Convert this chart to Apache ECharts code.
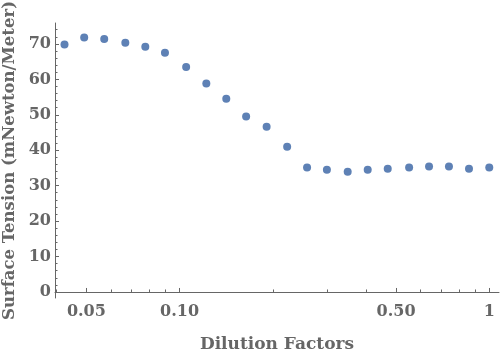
<!DOCTYPE html>
<html>
<head>
<meta charset="utf-8">
<script src="https://cdn.jsdelivr.net/npm/echarts@6/dist/echarts.min.js"></script>
<style>html,body{margin:0;padding:0;background:#fff;}#c{width:500px;height:356px;}</style>
</head>
<body>
<div id="c"></div>
<script>
const dilution = [0.0425,0.0492,0.0571,0.0668,0.0775,0.0897,0.105,0.122,0.1415,0.164,0.191,0.2225,0.258,0.299,0.349,0.405,0.470,0.551,0.639,0.741,0.860,1.0];
const tension = [69.8,71.8,71.4,70.3,69.2,67.5,63.5,58.8,54.5,49.5,46.6,41.0,35.1,34.5,33.9,34.5,34.8,35.1,35.4,35.4,34.8,35.1];
const xMajorTicks = [0.05,0.1,0.5,1];
const xMajorLabels = ['0.05','0.10','0.50','1'];
const xMinorTicks = [0.04,0.06,0.07,0.08,0.09,0.2,0.3,0.4,0.6,0.7,0.8,0.9];
const yMajorTicks = [0,10,20,30,40,50,60,70];
const yMinorTicks = [2,4,6,8,12,14,16,18,22,24,26,28,32,34,36,38,42,44,46,48,52,54,56,58,62,64,66,68,72,74];

const gray = '#666';
const font = {fontFamily:'DejaVu Serif', fontWeight:'bold', color:gray, fontSize:16};
const xMin = 0.0396, xMax = 1.075, yMin = -1.7, yMax = 75.9;

const chart = echarts.init(document.getElementById('c'));
chart.setOption({
  animation:false,
  grid:{left:55, right:1, top:23, bottom:58, outerBoundsMode:'none', containLabel:false},
  xAxis:[{
    type:'log', logBase:10, min:xMin, max:xMax,
    name:'Dilution Factors', nameLocation:'middle', nameGap:38,
    nameTextStyle:Object.assign({}, font, {fontSize:17}),
    axisLine:{lineStyle:{color:gray, width:1}},
    axisTick:{inside:true, length:4, customValues:xMajorTicks, lineStyle:{color:gray}},
    axisLabel:Object.assign({}, font, {margin:6, customValues:xMajorTicks,
      formatter:function(v){ for(let i=0;i<xMajorTicks.length;i++){ if(Math.abs(v-xMajorTicks[i])<1e-6) return xMajorLabels[i]; } return ''; }}),
    splitLine:{show:false}
  },{
    type:'log', logBase:10, min:xMin, max:xMax, position:'bottom',
    axisLine:{show:false},
    axisTick:{inside:true, length:2.5, customValues:xMinorTicks, lineStyle:{color:gray}},
    axisLabel:{show:false}, splitLine:{show:false}
  }],
  yAxis:[{
    type:'value', min:yMin, max:yMax,
    name:'Surface Tension (mNewton/Meter)', nameLocation:'middle', nameGap:36,
    nameTextStyle:Object.assign({}, font, {fontSize:16.5}),
    axisLine:{show:true, lineStyle:{color:gray, width:1}},
    axisTick:{show:true, inside:true, length:4, customValues:yMajorTicks, lineStyle:{color:gray}},
    axisLabel:Object.assign({}, font, {margin:4, customValues:yMajorTicks}),
    splitLine:{show:false}
  },{
    type:'value', min:yMin, max:yMax, position:'left',
    axisLine:{show:false},
    axisTick:{show:true, inside:true, length:2.5, customValues:yMinorTicks, lineStyle:{color:gray}},
    axisLabel:{show:false}, splitLine:{show:false}
  }],
  series:[{
    type:'scatter', xAxisIndex:0, yAxisIndex:0,
    data: dilution.map((d,i)=>[d, tension[i]]),
    symbol:'circle', symbolSize:8,
    itemStyle:{color:'#5e81b5', opacity:1}
  }]
});
</script>
</body>
</html>
